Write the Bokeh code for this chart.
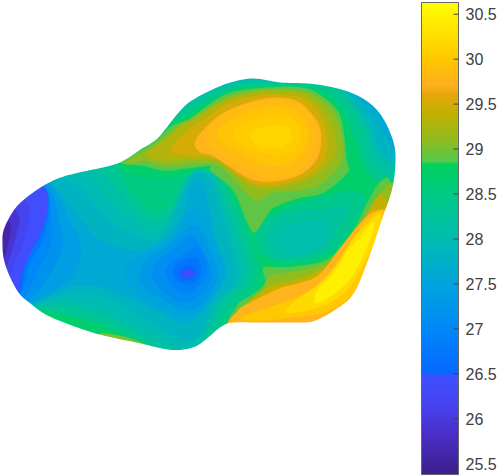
from bokeh.plotting import figure, ColumnDataSource
from bokeh.models import ColorBar, FixedTicker, LinearColorMapper, Range1d
from bokeh.embed import file_html
from bokeh.resources import INLINE
import numpy as np

# Colour scale
scale_low, scale_high = 25.38, 30.63
stop_values = [25.38, 25.8, 26.1, 26.49, 26.5, 27.0, 27.5, 28.0, 28.5, 28.84, 28.85, 29.1, 29.4, 29.6, 29.72, 30.0, 30.63]
stop_colors = ["#3b1f8c", "#4a2dc4", "#4840ec", "#3f50ff", "#0568ff", "#0088f8", "#00a4dc", "#00bcb0", "#00cb85",
               "#00d25a", "#52c84e", "#90bc20", "#c4b000", "#e4a80a", "#ffb020", "#ffc800", "#ffff00"]
tick_values = [25.5, 26, 26.5, 27, 27.5, 28, 28.5, 29, 29.5, 30, 30.5]
tick_labels = ["25.5", "26", "26.5", "27", "27.5", "28", "28.5", "29", "29.5", "30", "30.5"]

# Outline of the surface as seen in the view
outline = [(2,242),(3,230),(10,215),(20,202),(40,187),(60,177),(83,171),(117,163),(140,149),(157,138),(170,122),
           (187,103),(210,90),(230,82),(253,78),(280,82),(307,83),(333,87),(357,95),(377,110),(390,133),(395,155),
           (392,187),(382,217),(372,247),(355,290),(338,307),(315,320),(298,322),(255,322),(227,323),
           (210,335),(197,345),(183,349),(167,349),(140,343),(103,335),(77,327),(47,315),(30,303),(18,292),(8,273),(3,257)]

# Contour regions: (level, polygon), painted in this order
base_regions = [(28.7, [(2,60),(400,60),(400,355),(2,355)])]
top_regions = [
    (28.4, [(150,130),(190,112),(225,92),(260,85),(320,90),(345,115),(358,150),(370,175),(405,182),(405,60),(190,60),(150,110)]),
    (28.2, [(160,118),(190,105),(225,88),(260,83),(320,84),(345,100),(362,130),(372,165),(405,170),(405,60),(190,60),(150,105)]),
    (28.0, [(175,112),(195,98),(228,84),(262,80),(325,82),(350,100),(368,130),(378,158),(405,160),(405,60),(190,60)]),
    (27.8, [(195,92),(230,78),(262,76),(330,80),(355,102),(372,130),(384,155),(405,150),(405,60),(210,60)]),
    (27.6, [(200,88),(230,74),(300,72),(345,88),(370,110),(385,135),(395,150),(405,140),(405,60),(210,60)]),
]
basin_regions = [
    (28.4, [(262,222),(290,205),(330,195),(350,190),(365,200),(345,235),(325,255),(285,262),(262,255),(255,240)]),
    (28.2, [(268,225),(295,212),(330,208),(348,205),(335,235),(318,252),(285,258),(268,250)]),
    (28.05, [(278,228),(300,222),(325,220),(328,235),(315,250),(290,254),(277,245)]),
]
lobe_regions = [
    (28.5, [(2,140),(100,150),(125,172),(165,178),(210,170),(232,195),(250,232),(259,265),(255,290),(238,305),(222,330),(205,352),(165,352),(148,345),(105,328),(70,316),(40,310),(2,300)]),
    (28.3, [(2,150),(95,155),(125,185),(150,212),(172,205),(185,178),(212,172),(228,195),(243,232),(252,265),(247,288),(232,300),(215,328),(200,352),(165,352),(120,328),(75,315),(35,308),(2,295)]),
    (28.1, [(2,150),(80,158),(110,182),(140,215),(165,220),(180,195),(195,172),(212,175),(224,200),(238,235),(247,268),(240,286),(224,298),(205,335),(188,352),(160,345),(110,318),(60,305),(25,308),(2,295)]),
    (27.95, [(2,150),(60,160),(90,178),(125,215),(160,232),(175,205),(192,172),(212,175),(220,200),(232,238),(241,270),(235,287),(218,300),(200,338),(180,348),(150,332),(105,310),(60,300),(28,306),(2,298)]),
    (27.8, [(2,150),(45,172),(80,187),(110,222),(150,240),(168,225),(182,195),(195,172),(210,178),(218,205),(228,240),(236,270),(230,288),(212,305),(198,335),(178,338),(140,315),(100,295),(60,295),(25,305),(2,300)]),
    (27.6, [(2,150),(45,178),(70,205),(100,240),(140,250),(165,238),(182,215),(190,185),(200,180),(207,200),(215,240),(226,270),(216,292),(198,315),(180,322),(140,302),(95,285),(60,290),(30,305),(2,300)]),
    (27.5, [(150,250),(172,238),(184,215),(196,208),(206,220),(216,245),(224,272),(214,295),(190,315),(155,305),(130,285),(125,265)]),
    (27.3, [(165,248),(182,232),(196,225),(208,245),(217,274),(207,297),(188,310),(160,298),(140,282),(145,260)]),
    (27.1, [(172,250),(190,235),(202,250),(211,274),(202,292),(186,302),(165,293),(152,277),(158,260)]),
    (26.9, [(181,255),(197,247),(205,260),(205,274),(198,285),(186,292),(172,285),(165,272),(170,262)]),
    (26.7, [(184,260),(196,257),(200,268),(198,278),(188,284),(177,280),(172,272),(176,264)]),
    (26.55, [(184,266),(194,266),(195,275),(187,279),(179,276),(178,270)]),
    (26.4, [(184,270),(192,270),(194,274),(187,277),(181,275)]),
    (27.4, [(2,160),(47,180),(66,215),(80,245),(72,275),(45,295),(25,302),(2,300)]),
    (27.2, [(2,160),(45,183),(57,215),(62,245),(50,272),(30,298),(2,300)]),
    (27.0, [(2,165),(44,186),(50,215),(50,245),(37,270),(24,296),(2,300)]),
    (26.75, [(2,170),(44,187),(47,218),(42,240),(28,265),(20,293),(2,296)]),
    (26.55, [(2,170),(43,187),(45,212),(38,238),(25,260),(19,292),(2,298)]),
    (26.45, [(2,170),(44,187),(44,222),(31,250),(21,273),(17,294),(2,300)]),
    (26.2, [(2,190),(28,205),(25,235),(14,262),(8,278),(2,285)]),
    (25.9, [(2,205),(18,215),(14,240),(7,262),(2,270)]),
    (25.6, [(2,220),(10,225),(7,245),(3,258),(2,260)]),
    (29.0, [(100,333),(122,336),(148,346),(135,352),(105,340)]),
]
peak_regions = [
    (28.9, [(120,162),(140,150),(157,139),(172,125),(190,118),(223,95),(257,88),(300,87),(323,97),(340,117),(346,160),(347,172),(323,192),(300,197),(273,207),(263,220),(253,232),(243,213),(233,190),(210,170),(208,165),(167,170),(143,165)]),
    (29.1, [(125,163),(150,147),(172,130),(192,118),(225,98),(258,90),(298,90),(322,100),(337,120),(342,158),(322,182),(298,190),(272,192),(257,200),(245,192),(232,178),(212,163),(165,165),(145,160)]),
    (29.3, [(145,155),(165,140),(180,125),(195,118),(225,100),(260,92),(296,92),(318,104),(332,125),(335,152),(318,173),(295,183),(265,188),(245,182),(225,165),(205,158),(170,160)]),
    (29.5, [(170,150),(185,132),(205,118),(228,103),(262,95),(298,97),(315,108),(325,130),(325,155),(312,172),(290,182),(262,185),(240,176),(215,158),(190,155)]),
    (29.75, [(195,140),(215,118),(235,107),(265,98),(295,100),(312,115),(320,130),(318,155),(303,172),(280,180),(255,180),(235,170),(212,155),(200,152)]),
    (29.85, [(205,135),(225,112),(265,100),(300,105),(315,125),(313,150),(297,172),(270,178),(240,165),(212,150)]),
    (29.95, [(222,125),(245,112),(275,106),(300,115),(308,132),(300,155),(280,165),(255,160),(232,148),(218,138)]),
    (30.05, [(235,128),(260,118),(285,115),(300,128),(295,148),(277,155),(255,150),(238,142)]),
    (30.15, [(250,133),(270,125),(288,128),(290,140),(277,147),(258,145)]),
]
ridge_regions = [
    (28.9, [(232,330),(235,308),(242,300),(258,290),(265,280),(263,267),(283,267),(315,263),(332,255),(355,227),(372,193),(392,187),(400,330),(300,340)]),
    (29.1, [(234,330),(238,312),(245,305),(262,290),(270,275),(290,272),(320,265),(338,252),(360,225),(376,198),(398,192),(400,335),(300,340)]),
    (29.4, [(234,330),(238,315),(252,298),(272,285),(300,278),(330,264),(348,240),(366,215),(385,198),(400,300),(330,335)]),
    (29.75, [(232,330),(236,312),(248,303),(282,287),(315,277),(338,250),(362,220),(378,210),(395,220),(360,300),(320,335)]),
    (30.0, [(240,318),(265,308),(298,296),(328,278),(340,258),(362,224),(380,210),(385,222),(372,255),(355,290),(330,310),(300,316),(260,320)]),
    (30.2, [(295,300),(318,284),(336,264),(355,236),(372,218),(380,214),(376,236),(364,262),(350,285),(330,302),(305,310),(285,312)]),
    (30.45, [(318,288),(334,272),(346,252),(360,236),(372,222),(372,232),(362,256),(350,278),(330,296),(315,302)]),
]

all_regions = base_regions + top_regions + basin_regions + lobe_regions + peak_regions + ridge_regions

# Palette built from the colour stops
def hex_rgb(h):
    return [int(h[i:i + 2], 16) for i in (1, 3, 5)]

grid = np.linspace(scale_low, scale_high, 1024)
rgb = np.array([hex_rgb(c) for c in stop_colors], dtype=float)
channels = [np.interp(grid, stop_values, rgb[:, i]).round().astype(int) for i in range(3)]
palette = ["#%02x%02x%02x" % (r, g, b) for r, g, b in zip(*channels)]
mapper = LinearColorMapper(palette=palette, low=scale_low, high=scale_high)

# Rounded drawing of a closed contour that still passes through its read points
def rounded(poly, passes=3):
    pts = np.array(poly, dtype=float)
    for _ in range(passes):
        mid = (9 * (pts + np.roll(pts, -1, axis=0)) - np.roll(pts, 1, axis=0) - np.roll(pts, -2, axis=0)) / 16
        pts = np.column_stack([pts, mid]).reshape(-1, 2)
    return np.clip(pts[:, 0], 1.5, 405).tolist(), pts[:, 1].tolist()

p = figure(width=498, height=476, output_backend="svg", toolbar_location=None,
           x_range=Range1d(0, 498), y_range=Range1d(476, 0), min_border=0,
           outline_line_color=None, background_fill_color="white",
           border_fill_color="white")
p.axis.visible = False
p.grid.visible = False

drawn = [rounded(poly) for _, poly in all_regions]
source = ColumnDataSource(dict(
    xs=[d[0] for d in drawn],
    ys=[d[1] for d in drawn],
    level=[lv for lv, _ in all_regions],
))
fill = {"field": "level", "transform": mapper}
p.patches("xs", "ys", source=source, fill_color=fill, line_color=fill, line_width=0.5)

# Everything outside the outline stays white
outline_x, outline_y = rounded(outline, 3)
frame_x, frame_y = [-20, 418, 418, -20], [-20, -20, 496, 496]
p.multi_polygons(xs=[[[frame_x, outline_x]]], ys=[[[frame_y, outline_y]]],
                 fill_color="white", line_color=None)

bar = ColorBar(color_mapper=mapper, width=37, height=472, location=(421, 2), padding=0, margin=0,
               ticker=FixedTicker(ticks=tick_values),
               major_label_overrides={v: t for v, t in zip(tick_values, tick_labels)},
               major_label_text_font="Liberation Sans", major_label_text_font_size="16px",
               major_label_text_color="#404040", label_standoff=7,
               major_tick_in=0, major_tick_out=0,
               bar_line_color="#666666", bar_line_width=1, background_fill_color=None, border_line_color=None,
               minor_tick_line_color=None)
p.add_layout(bar, "center")

# Tick marks inside the bar's right edge, on a value scale aligned with the bar
per_px = (scale_high - scale_low) / 472
p.extra_y_ranges["bar"] = Range1d(scale_low - 2 * per_px, scale_high + 2 * per_px)
p.segment(x0=453, x1=458, y0=tick_values, y1=tick_values, y_range_name="bar",
          line_color="#404040", line_width=1, level="overlay")

open("out.html", "w").write(file_html(p, INLINE))
